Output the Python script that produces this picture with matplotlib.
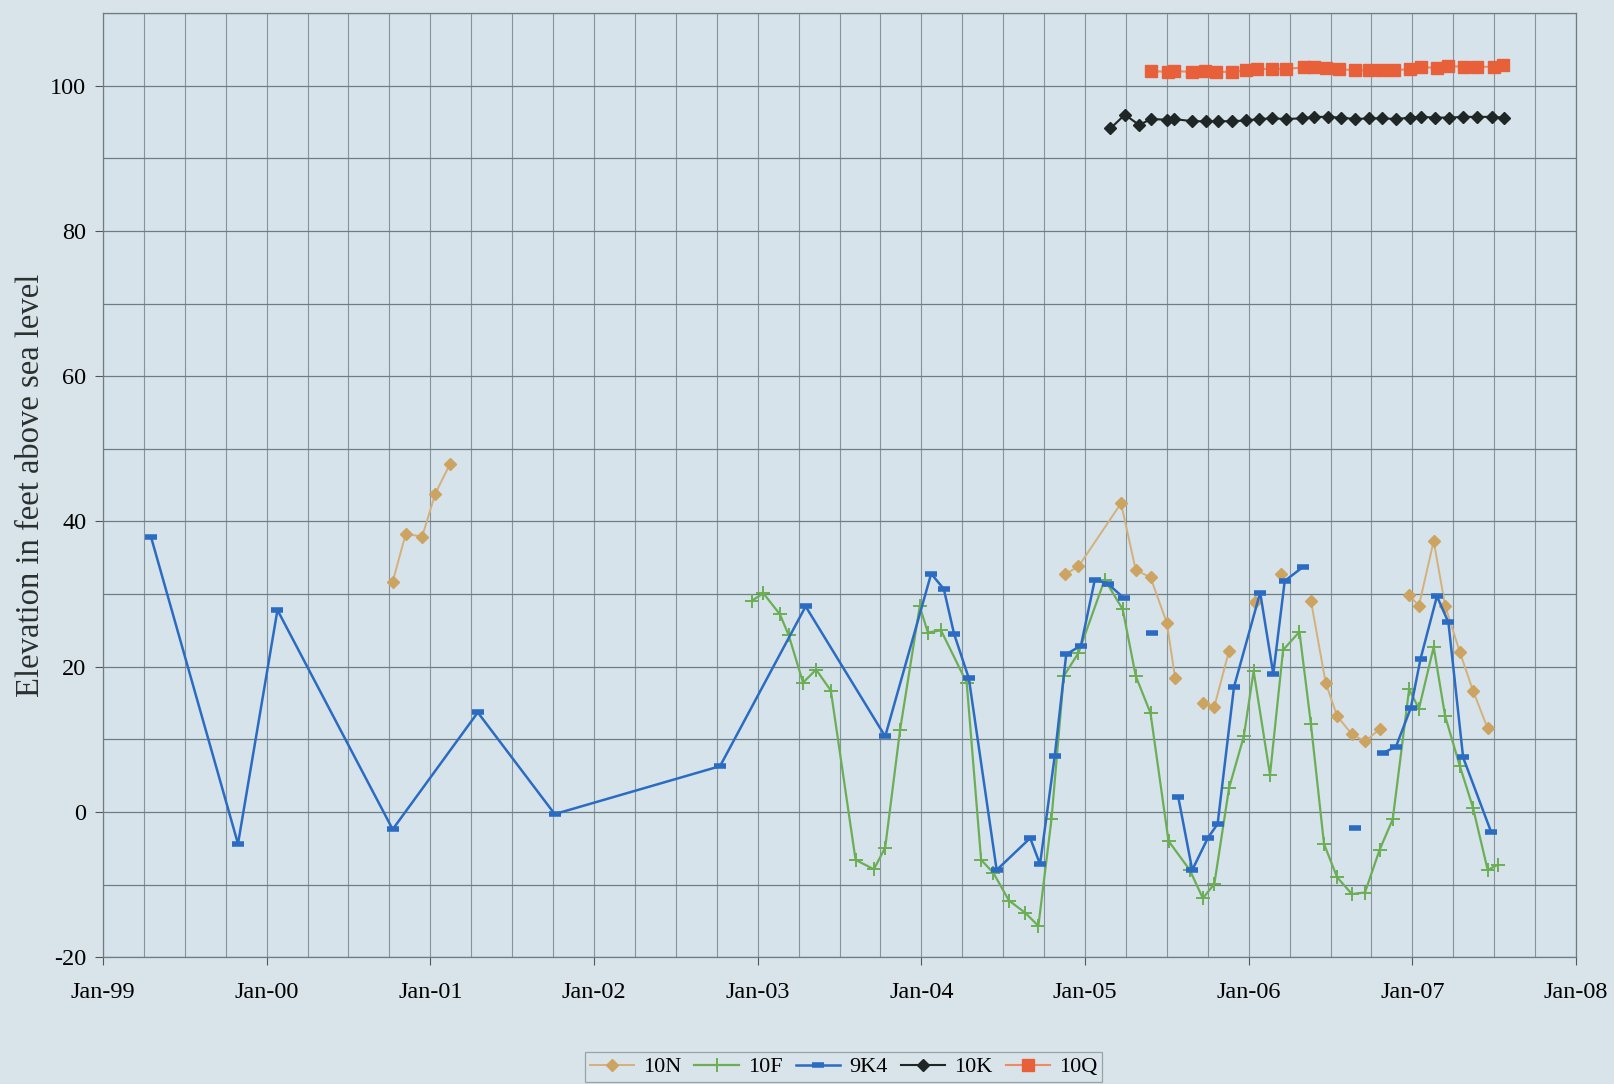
import numpy as np
import matplotlib
matplotlib.use('Agg')
import matplotlib.pyplot as plt
from matplotlib.ticker import MultipleLocator

nan = np.nan

# Dates are decimal years (1999.25 = Apr-99), values in feet above sea level
# NaN entries mark gaps where the Excel chart did not connect points

# 10N
dates_10n = [2000.77, 2000.85, 2000.95, 2001.03, 2001.12, 2003.00,
             2004.875, 2004.96, 2005.22, 2005.31, 2005.40, 2005.50, 2005.55, 2005.63,
             2005.72, 2005.79, 2005.88, 2005.96,
             2006.04, 2006.12,
             2006.20, 2006.29,
             2006.38, 2006.47, 2006.54, 2006.63, 2006.71, 2006.80, 2006.89,
             2006.98, 2007.04, 2007.13, 2007.20, 2007.29, 2007.37, 2007.46]
elev_10n = [31.7, 38.3, 37.9, 43.8, 47.9, nan,
            32.7, 33.8, 42.5, 33.3, 32.3, 26.0, 18.5, nan,
            15.0, 14.5, 22.2, nan,
            28.9, nan,
            32.75, nan,
            29.1, 17.8, 13.2, 10.7, 9.7, 11.4, nan,
            29.8, 28.4, 37.3, 28.4, 22.0, 16.7, 11.5]

# 10F
dates_10f = [2002.965, 2003.035, 2003.136, 2003.19, 2003.277, 2003.357, 2003.447,
             2003.598, 2003.71, 2003.779, 2003.87, 2003.99, 2004.04, 2004.12,
             2004.277, 2004.365, 2004.44, 2004.535, 2004.635, 2004.715, 2004.795,
             2004.87, 2004.96, 2005.12, 2005.23, 2005.31, 2005.40, 2005.51,
             2005.64, 2005.72, 2005.79, 2005.88, 2005.97, 2006.03, 2006.13,
             2006.21, 2006.31, 2006.38, 2006.46, 2006.54, 2006.63, 2006.71,
             2006.80, 2006.88, 2006.98, 2007.04, 2007.13, 2007.20, 2007.29,
             2007.37, 2007.46, 2007.52]
elev_10f = [29.1, 30.1, 27.2, 24.3, 17.8, 19.6, 16.7,
            -6.6, -7.9, -4.9, 11.3, 28.3, 24.7, 25.0,
            17.8, -6.6, -8.4, -12.2, -13.9, -15.7, -1.0,
            18.7, 21.9, 32.0, 27.9, 18.7, 13.6, -4.0,
            -8.0, -11.9, -9.9, 3.3, 10.4, 19.4, 5.1,
            22.3, 24.8, 12.1, -4.4, -9.0, -11.3, -11.1,
            -5.2, -1.0, 16.9, 14.2, 22.7, 13.2, 6.3,
            0.6, -8.0, -7.3]

# 9K4
dates_9k4 = [1999.293, 1999.825, 2000.066, 2000.77, 2001.29, 2001.76, 2002.77,
             2003.293, 2003.779, 2004.06, 2004.137, 2004.20, 2004.29, 2004.46,
             2004.665, 2004.725, 2004.815, 2004.885, 2004.975, 2005.06, 2005.14,
             2005.24, 2005.33, 2005.41, 2005.49,
             2005.57, 2005.655, 2005.75, 2005.81, 2005.91, 2006.07, 2006.15,
             2006.22, 2006.33, 2006.49, 2006.65, 2006.73,
             2006.82, 2006.90, 2006.99, 2007.05, 2007.15, 2007.22, 2007.31, 2007.48]
elev_9k4 = [37.9, -4.4, 27.8, -2.4, 13.7, -0.3, 6.3,
            28.3, 10.4, 32.8, 30.7, 24.5, 18.4, -8.0,
            -3.6, -7.2, 7.7, 21.7, 22.9, 32.0, 31.4,
            29.4, nan, 24.6, nan,
            2.0, -8.0, -3.6, -1.65, 17.2, 30.2, 19.0,
            31.8, 33.7, nan, -2.25, nan,
            8.1, 9.0, 14.3, 21.1, 29.7, 26.1, 7.5, -2.7]

# 10K
dates_10k = [2005.155, 2005.243, 2005.33, 2005.405, 2005.50, 2005.545, 2005.655,
             2005.74, 2005.815, 2005.895, 2005.985, 2006.061, 2006.145, 2006.225,
             2006.325, 2006.399, 2006.482, 2006.563, 2006.65, 2006.735, 2006.815,
             2006.901, 2006.985, 2007.055, 2007.141, 2007.225, 2007.311, 2007.392,
             2007.485, 2007.56]
elev_10k = [94.1, 96.0, 94.6, 95.4, 95.3, 95.4, 95.1,
            95.1, 95.1, 95.1, 95.2, 95.4, 95.5, 95.4,
            95.5, 95.7, 95.7, 95.6, 95.4, 95.5, 95.5,
            95.4, 95.6, 95.7, 95.6, 95.6, 95.7, 95.7,
            95.7, 95.6]

# 10Q
dates_10q = [2005.405, 2005.505, 2005.545, 2005.655, 2005.735, 2005.80, 2005.895,
             2005.985, 2006.05, 2006.145, 2006.225, 2006.335, 2006.399, 2006.475,
             2006.552, 2006.65, 2006.735, 2006.815, 2006.89, 2006.985, 2007.055,
             2007.152, 2007.215, 2007.315, 2007.392, 2007.501, 2007.555]
elev_10q = [102.0, 101.9, 102.0, 101.9, 102.0, 101.9, 101.9,
            102.1, 102.3, 102.3, 102.3, 102.5, 102.5, 102.4,
            102.3, 102.1, 102.1, 102.1, 102.1, 102.3, 102.6,
            102.4, 102.7, 102.6, 102.6, 102.6, 102.85]

x_tick_years = list(range(1999, 2009))
x_tick_labels = ['Jan-99', 'Jan-00', 'Jan-01', 'Jan-02', 'Jan-03',
                 'Jan-04', 'Jan-05', 'Jan-06', 'Jan-07', 'Jan-08']
y_ticks = [-20, 0, 20, 40, 60, 80, 100]

BG = '#d9e4ea'
AX_BG = '#d6e3eb'


def plot_elevations():
    plt.rcParams['font.family'] = ['Liberation Serif', 'DejaVu Serif']
    plt.rcParams['axes.unicode_minus'] = False

    fig = plt.figure(figsize=(16.14, 10.84), dpi=100, facecolor=BG)
    ax = fig.add_axes([0.0638, 0.117, 0.9127, 0.871], facecolor=AX_BG)

    # Series, in legend order
    ax.plot(dates_10n, elev_10n, color='#d4b07a', lw=1.4, marker='D', ms=6,
            mfc='#cda362', mec='#cda362', label='10N')
    ax.plot(dates_10f, elev_10f, color='#6cae55', lw=1.6, marker='+', ms=10,
            mew=1.4, label='10F')
    ax.plot(dates_9k4, elev_9k4, color='#2b6cc2', lw=1.8, marker='_', ms=9,
            mew=4, label='9K4')
    ax.plot(dates_10k, elev_10k, color='#1e2626', lw=1.5, marker='D', ms=6.5,
            label='10K')
    ax.plot(dates_10q, elev_10q, color='#ef8a62', lw=1.5, marker='s', ms=8.5,
            mfc='#e8603a', mec='#e8603a', label='10Q')

    # Axes ranges and ticks
    ax.set_xlim(1999, 2008)
    ax.set_ylim(-20, 110)
    ax.set_xticks(x_tick_years)
    ax.set_xticklabels(x_tick_labels)
    ax.xaxis.set_minor_locator(MultipleLocator(0.25))
    ax.set_yticks(y_ticks)
    ax.yaxis.set_minor_locator(MultipleLocator(10))

    ax.tick_params(axis='x', which='major', length=6, width=0.8, pad=12,
                   labelsize=17.5, color='#555555')
    ax.tick_params(axis='y', which='major', length=6, width=0.8, pad=6,
                   labelsize=17.5, color='#555555')
    ax.tick_params(which='minor', length=0)

    # Gridlines
    ax.grid(True, axis='y', which='both', color='#6e7d84', lw=0.9)
    ax.grid(True, axis='x', which='both', color='#84949b', lw=0.8)
    ax.set_axisbelow(True)

    for spine in ax.spines.values():
        spine.set_color('#6e7d84')
        spine.set_linewidth(0.9)

    ax.set_ylabel('Elevation in feet above sea level', fontsize=23.5,
                  color='#2a3030')
    ax.yaxis.set_label_coords(-0.0385, 0.5)

    leg = fig.legend(loc='lower center', bbox_to_anchor=(0.5226, 0.0),
                     ncol=5, fontsize=16, frameon=True, fancybox=False,
                     handlelength=2.0, columnspacing=0.6, handletextpad=0.4,
                     borderpad=0.2, borderaxespad=0.1,
                     facecolor=BG, edgecolor='#8a9499')
    leg.get_frame().set_linewidth(0.9)

    fig.savefig('out.png', dpi=100, facecolor=BG)


if __name__ == '__main__':
    plot_elevations()
